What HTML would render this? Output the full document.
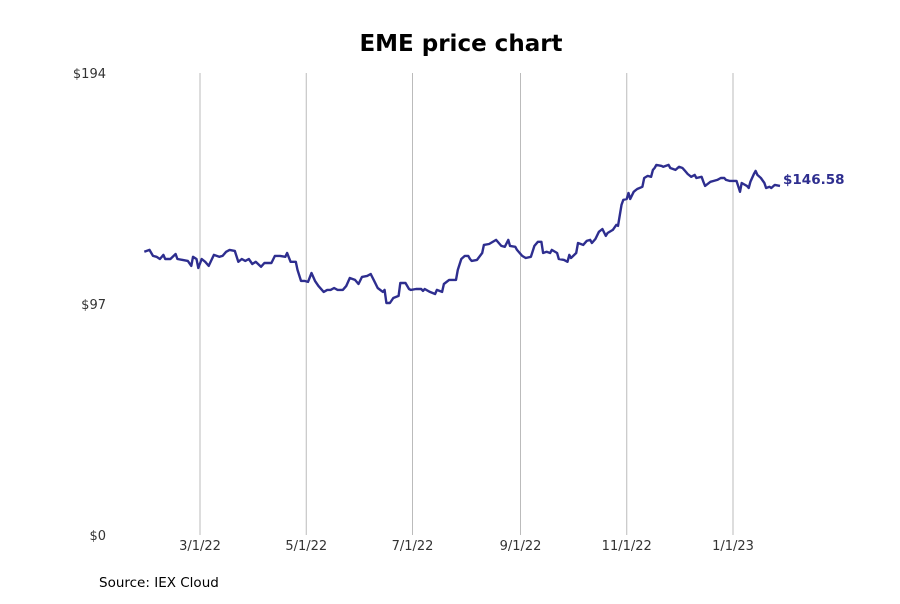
<!DOCTYPE html>
<html><head><meta charset="utf-8"><style>
body{margin:0;background:#fff;font-family:"DejaVu Sans","Liberation Sans",sans-serif;}
svg text{font-family:"DejaVu Sans","Liberation Sans",sans-serif;}
</style></head><body>
<svg id="chart" width="900" height="600" viewBox="0 0 900 600" xmlns="http://www.w3.org/2000/svg">
<text x="461" y="51" text-anchor="middle" font-size="23" font-weight="bold" fill="#000">EME price chart</text>
<g id="grid"></g>
<g id="yaxis"></g>
<g id="xaxis"></g>
<path id="line" fill="none" stroke="#2e2e8f" stroke-width="2.4" stroke-linejoin="round"/>
<text id="lastlabel" font-size="13.5" font-weight="bold" fill="#2e2e8f"></text>
<text x="99" y="587" font-size="13.5" fill="#000">Source: IEX Cloud</text>
</svg>
<script>
// days since 2022-01-01
const days=[27,30,32,34,36,38,39,42,45,46,49,52,54,55,57,58,60,62,64,67,70,72,74,76,79,81,83,85,87,89,91,94,96,98,100,102,105,108,109,111,114,115,117,119,121,123,125,127,130,132,134,136,138,141,143,145,148,150,152,155,157,159,161,164,165,166,168,170,173,174,177,179,180,183,186,187,188,191,194,195,198,199,202,206,207,209,211,213,214,215,218,221,222,225,229,232,234,236,237,240,241,244,246,249,251,253,255,256,258,260,261,264,265,268,270,271,272,275,276,279,281,283,284,286,288,290,292,293,296,298,299,301,302,304,305,306,308,310,313,314,316,318,319,320,321,324,325,328,329,332,334,336,337,339,341,343,344,347,348,349,352,354,356,358,360,361,363,365,367,369,370,373,374,375,377,378,379,381,383,384,386,387,389,392];
const prices=[118.9,119.7,117.2,116.8,115.9,117.6,115.9,115.9,118.0,115.9,115.5,115.1,113.0,116.8,115.9,112.1,115.9,114.7,113.0,117.6,116.8,117.2,118.9,119.7,119.3,114.7,115.9,115.1,115.9,113.8,114.7,112.6,114.2,114.2,114.2,117.2,117.2,116.8,118.4,114.7,114.7,111.3,106.7,106.7,106.3,110.0,106.7,104.6,102.1,102.9,102.9,103.7,102.9,102.9,104.6,107.9,107.1,105.4,108.4,108.8,109.6,106.7,103.7,102.1,102.9,97.4,97.4,99.5,100.4,105.8,105.8,103.3,102.9,103.3,103.3,102.5,103.3,102.1,101.2,102.9,102.1,105.4,107.1,107.1,111.3,115.9,117.2,117.2,115.9,115.1,115.5,118.4,121.8,122.2,123.9,121.4,121.0,123.9,121.4,121.0,119.7,117.2,116.3,116.8,121.4,123.1,123.1,118.4,118.9,118.4,119.7,118.4,115.9,115.5,114.7,117.6,116.3,118.4,122.6,121.8,123.5,123.9,122.6,124.3,127.3,128.5,125.6,126.8,128.1,130.2,129.8,138.6,140.7,141.1,143.6,141.1,144.1,145.3,146.2,149.9,150.8,150.4,153.3,154.1,155.4,155.0,154.6,155.4,154.1,153.3,154.6,154.1,153.3,151.6,150.4,151.2,149.9,150.4,148.3,146.6,148.3,148.7,149.1,149.9,149.9,149.1,148.7,148.7,148.7,144.1,147.8,146.6,145.7,148.3,151.6,152.9,151.2,149.9,147.8,145.7,146.2,145.7,147.0,146.58];
const tickDays=[59,120,181,243,304,365];
const tickLabels=["3/1/22","5/1/22","7/1/22","9/1/22","11/1/22","1/1/23"];
const yTicks=[0,97,194];
const yLabels=["$0","$97","$194"];

const NS="http://www.w3.org/2000/svg";
const x=d=>200+(d-59)*(533/306);
const y=v=>535-v*(462/194);
function mk(tag,attrs,parent,txt){const e=document.createElementNS(NS,tag);for(const k in attrs)e.setAttribute(k,attrs[k]);if(txt!==undefined)e.textContent=txt;parent.appendChild(e);return e;}
const grid=document.getElementById('grid'),xa=document.getElementById('xaxis'),ya=document.getElementById('yaxis');
tickDays.forEach((d,i)=>{
  const l=mk('line',{x1:x(d),x2:x(d),y1:y(194),y2:y(0),stroke:'#bbb','stroke-width':1},grid);
  
  
  const t=mk('text',{x:x(d),y:550,'text-anchor':'middle','font-size':13,fill:'#333'},xa,tickLabels[i]);
  
  
});
yTicks.forEach((v,i)=>{
  const t=mk('text',{x:106,y:y(v)+5,'text-anchor':'end','font-size':13,fill:'#333'},ya,yLabels[i]);
  
  
});
document.getElementById('line').setAttribute('d',days.map((d,i)=>(i?'L':'M')+x(d).toFixed(1)+','+y(prices[i]).toFixed(1)).join(''));
const n=days.length-1,lab=document.getElementById('lastlabel');
lab.setAttribute('x',x(days[n])+3);
lab.setAttribute('y',y(prices[n])-2);
lab.textContent='$'+prices[n].toFixed(2);
</script>
</body></html>
